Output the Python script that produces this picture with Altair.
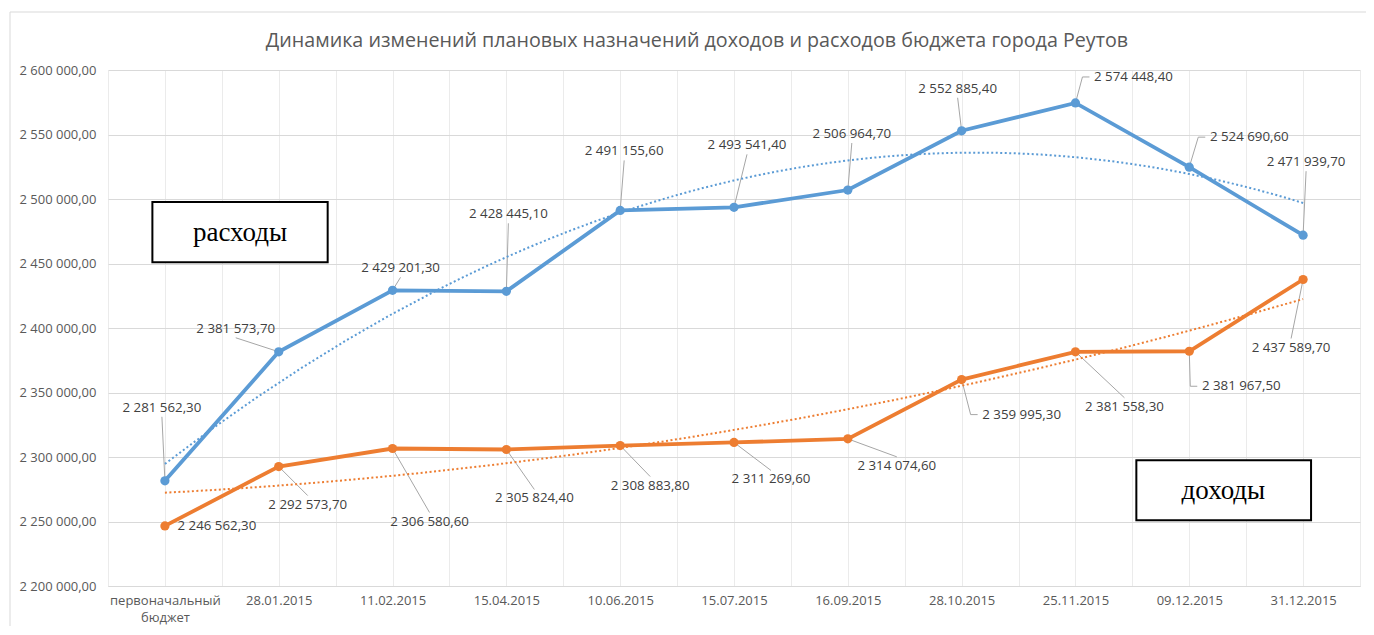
import json
import altair as alt
import pandas as pd

# ---------------- data ----------------
categories = ["первоначальный бюджет", "28.01.2015", "11.02.2015", "15.04.2015",
              "10.06.2015", "15.07.2015", "16.09.2015", "28.10.2015",
              "25.11.2015", "09.12.2015", "31.12.2015"]
expenses = [2281562.30, 2381573.70, 2429201.30, 2428445.10, 2491155.60, 2493541.40,
            2506964.70, 2552885.40, 2574448.40, 2524690.60, 2471939.70]
revenues = [2246562.30, 2292573.70, 2306580.60, 2305824.40, 2308883.80, 2311269.60,
            2314074.60, 2359995.30, 2381558.30, 2381967.50, 2437589.70]
series_names = ["расходы", "доходы"]
series_colors = ["#5b9bd5", "#ed7d31"]
y_ticks = list(range(2200000, 2600001, 50000))
title_text = "Динамика изменений плановых назначений доходов и расходов бюджета города Реутов"

# ---------------- label placement (pixel offsets from the point) ----------------
exp_label_dx = [-3, -43, 8, 2, 4, 13, 4, -4, 58, 60, 3]
exp_label_dy = [-73, -23, -22, -77, -59, -62, -56, -42, -26, -30, -73]
exp_leader = ["straight"] * 8 + ["elbow", "elbow", "straight"]
rev_label_dx = [52, 29, 37, 28, 30, 37, 49, 60, 49, 52, -12]
rev_label_dy = [0, 38, 73, 49, 40, 37, 27, 35, 55, 35, 68]
rev_leader = ["none", "straight", "straight", "straight", "straight", "straight",
              "straight", "elbow", "straight", "elbow", "straight"]

W, H = 1252, 516
X_MIN, X_MAX = -0.5, len(categories) - 0.5
Y_MIN, Y_MAX = y_ticks[0], y_ticks[-1]
PX_X = W / (X_MAX - X_MIN)          # pixels per category
VAL_PX = (Y_MAX - Y_MIN) / H        # value per pixel
HALF_W, HALF_H = 40, 9


def fmt(v):
    return f"{v:,.2f}".replace(",", " ").replace(".", ",")


rows, labels, leaders = [], [], []
for name, vals, dxs, dys, kinds in [
    (series_names[0], expenses, exp_label_dx, exp_label_dy, exp_leader),
    (series_names[1], revenues, rev_label_dx, rev_label_dy, rev_leader),
]:
    for i, v in enumerate(vals):
        rows.append({"i": i, "v": v, "s": name})
        lx = i + dxs[i] / PX_X
        ly = v - dys[i] * VAL_PX
        labels.append({"lx": lx, "ly": ly, "t": fmt(v)})
        if kinds[i] == "straight":
            ey = ly - (HALF_H if dys[i] < 0 else -HALF_H) * VAL_PX
            leaders.append({"a": i, "b": v, "a2": lx, "b2": ey})
        elif kinds[i] == "elbow":
            left = lx - HALF_W / PX_X
            cx = left - 11 / PX_X
            ex = left - 4 / PX_X
            leaders.append({"a": i, "b": v, "a2": cx, "b2": ly})
            leaders.append({"a": cx, "b": ly, "a2": ex, "b2": ly})

df = pd.DataFrame(rows)
df_labels = pd.DataFrame(labels)
df_leaders = pd.DataFrame(leaders)

boxes = pd.DataFrame([
    {"x1": -0.11, "x2": 1.43, "y1": 2451000, "y2": 2497700, "tx": 0.66, "ty": 2474000, "t": "расходы"},
    {"x1": 8.535, "x2": 10.07, "y1": 2250900, "y2": 2297400, "tx": 9.30, "ty": 2273800, "t": "доходы"},
])

# ---------------- scales & axes ----------------
x_values = [X_MIN + k * 0.5 for k in range(int((X_MAX - X_MIN) * 2) + 1)]
cats_js = json.dumps(categories, ensure_ascii=False)
x_scale = alt.Scale(domain=[X_MIN, X_MAX], nice=False, zero=False)
y_scale = alt.Scale(domain=[Y_MIN, Y_MAX], nice=False, zero=False)
x_axis = alt.Axis(values=x_values, grid=True, gridColor="#ebebeb", domain=True,
                  domainColor="#d9d9d9", ticks=False, title=None,
                  labelExpr=f"datum.value % 1 == 0 ? split({cats_js}[datum.value], ' ') : ''",
                  labelOverlap=False, labelFlush=False, labelBound=False,
                  labelFont="Open Sans", labelFontSize=13, labelColor="#595959",
                  labelPadding=8, labelLineHeight=17, labelBaseline="top")
y_axis = alt.Axis(values=y_ticks, grid=True, gridColor="#d9d9d9", domain=False,
                  ticks=False, title=None,
                  labelExpr="replace(replace(format(datum.value, ',.2f'), regexp(',', 'g'), ' '), '.', ',')",
                  labelFont="Open Sans", labelFontSize=13, labelColor="#595959",
                  labelPadding=12)


def X(f):
    return alt.X(f, type="quantitative", scale=x_scale, axis=x_axis)


def Y(f):
    return alt.Y(f, type="quantitative", scale=y_scale, axis=y_axis)


color = alt.Color("s:N", scale=alt.Scale(domain=series_names, range=series_colors), legend=None)

base = alt.Chart(df)
one = pd.DataFrame({"t": [title_text]})

frame = alt.Chart(one).mark_rect(
    fill="white", fillOpacity=0, stroke="#d9d9d9", strokeWidth=1
).encode(x=alt.value(-98), x2=alt.value(W + 60), y=alt.value(-58), y2=alt.value(H + 90))

title = alt.Chart(one).mark_text(
    font="Open Sans", fontSize=19.7, color="#595959", align="center", baseline="alphabetic"
).encode(x=alt.value(W / 2 - 37), y=alt.value(-23), text="t:N")

leader_layer = alt.Chart(df_leaders).mark_rule(color="#a6a6a6", strokeWidth=1).encode(
    x=X("a"), y=Y("b"), x2="a2:Q", y2="b2:Q")

lines = base.mark_line(strokeWidth=3.8).encode(x=X("i"), y=Y("v"), color=color)
points = base.mark_circle(size=85, opacity=1).encode(x=X("i"), y=Y("v"), color=color)

trend = base.transform_regression(
    "i", "v", groupby=["s"], method="poly", order=2, extent=[0, len(categories) - 1]
).mark_line(strokeWidth=2, strokeDash=[2, 2.5]).encode(x=X("i"), y=Y("v"), color=color)

label_layer = alt.Chart(df_labels).mark_text(
    font="Open Sans", fontSize=13.3, color="#404040", align="center", baseline="middle"
).encode(x=X("lx"), y=Y("ly"), text="t:N")

box_rect = alt.Chart(boxes).mark_rect(fill="white", stroke="black", strokeWidth=2).encode(
    x=X("x1"), x2="x2:Q", y=Y("y1"), y2="y2:Q")
box_text = alt.Chart(boxes).mark_text(
    font="Liberation Serif", fontSize=27, color="black", align="center", baseline="middle"
).encode(x=X("tx"), y=Y("ty"), text="t:N")

chart = alt.layer(
    frame, title, leader_layer, lines, trend, points, label_layer, box_rect, box_text
).properties(
    width=W, height=H,
    autosize=alt.AutoSizeParams(type="none"),
    padding={"left": 100, "top": 62, "right": 6, "bottom": 40},
    background="white",
).configure_view(strokeWidth=0)

chart.save("out.html", embed_options={"renderer": "svg", "actions": False})
